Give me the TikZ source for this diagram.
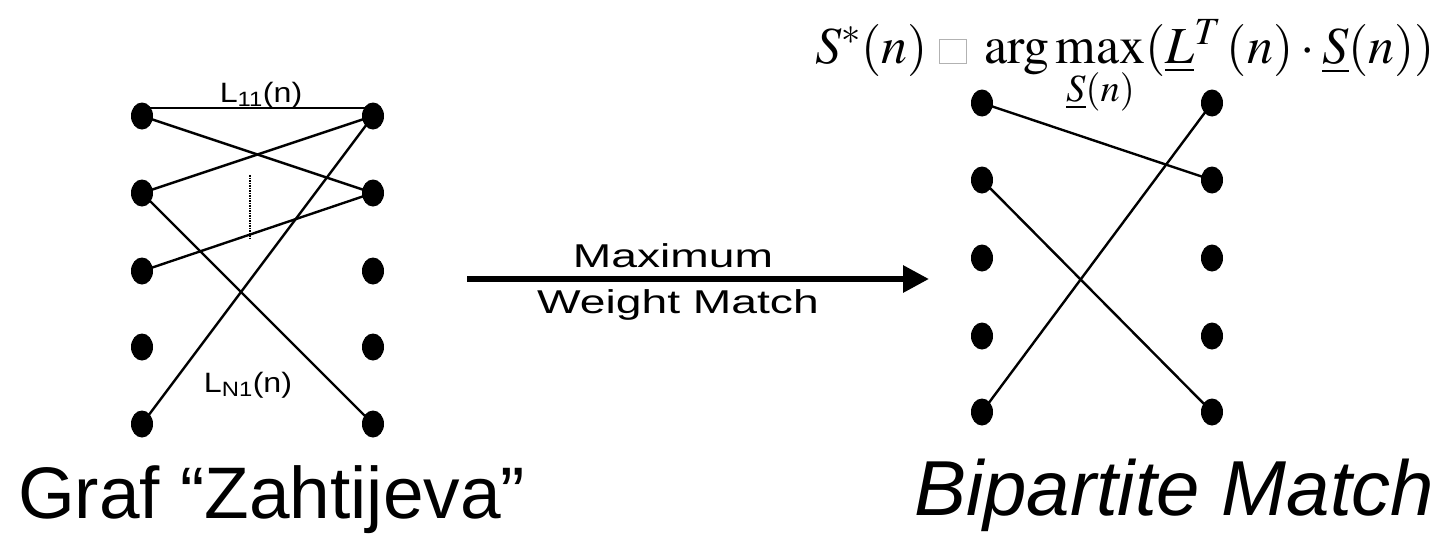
\documentclass[tikz,border=0pt]{standalone}
\usepackage{mathptmx}
\usepackage{fontspec}
\setmainfont{Liberation Sans}
\newfontfamily\comic{Liberation Sans}
\newfontfamily\comicw[FakeStretch=1.4]{Liberation Sans}
\newfontfamily\comicm[FakeStretch=1.15]{Liberation Sans}
\usetikzlibrary{shapes.geometric,arrows.meta}
\tikzset{
  dot/.style={ellipse,fill=black,draw=none,minimum width=22pt,minimum height=27pt,inner sep=0pt},
  edge/.style={line width=2.4pt},
  biglabel/.style={inner sep=0pt,font=\comic\fontsize{73}{80}\selectfont},
  midlabel/.style={inner sep=0pt,font=\comicw\fontsize{33}{36}\selectfont},
  elabel/.style={inner sep=0pt,font=\comicm\fontsize{28}{30}\selectfont},
}
\begin{document}
\begin{tikzpicture}[x=1pt,y=-1pt]
\useasboundingbox (0,0) rectangle (1454,533);
% left graph
\foreach \i/\y in {1/116,2/193,3/271,4/347,5/424}{
  \node[dot] (a\i) at (142,\y) {};
  \node[dot] (b\i) at (373,\y) {};
}
\draw[edge] ([yshift=8pt]a1.center) -- ([yshift=8pt]b1.center);
\draw[edge] (a1.center) -- (b2.center);
\draw[edge] (a2.center) -- (b1.center);
\draw[edge] (a2.center) -- (b5.center);
\draw[edge] (a3.center) -- (b2.center);
\draw[edge] (a5.center) -- (b1.center);
\coordinate (d1) at (250,175);
\coordinate (d2) at (250,240);
\draw[densely dotted,line width=1.5pt] (d1) -- (d2);
\node[elabel,anchor=base] (l11) at (261,102) {L\textsubscript{11}(n)};
\node[elabel,anchor=base] (ln1) at (248,392) {L\textsubscript{N1}(n)};
% arrow
\coordinate (arrS) at (467,279);
\coordinate (arrE) at (929,279);
\draw[line width=6pt,-{Triangle[length=26pt,width=26pt]}] (arrS) -- (arrE);
\node[midlabel,anchor=base] (max) at (673,267) {Maximum};
\node[midlabel,anchor=base] (wm) at (678,313) {Weight Match};
% right graph
\foreach \i/\y in {1/103,2/180,3/258,4/336,5/412}{
  \node[dot] (c\i) at (982,\y) {};
  \node[dot] (e\i) at (1212,\y) {};
}
\draw[edge] (c1.center) -- (e2.center);
\draw[edge] (c2.center) -- (e5.center);
\draw[edge] (c5.center) -- (e1.center);
% formula
\node[inner sep=0pt,anchor=base west,font=\fontsize{52}{56}\selectfont] (form) at (815,63)
  {$S^{*}(n)\;\tikz[baseline=0pt]\draw[gray!60,line width=0.8pt] (0,0) rectangle (27pt,24pt);\;\arg\max\limits_{\underline{S}(n)}(\underline{L}^{T}\,(n)\cdot\underline{S}(n))$};
% bottom labels
\node[biglabel,anchor=base west] (graf) at (18,518) {Graf “Zahtijeva”};
\node[biglabel,anchor=base west,font=\comic\itshape\fontsize{78}{84}\selectfont] (bm) at (914,515) {Bipartite Match};
\end{tikzpicture}
\end{document}
